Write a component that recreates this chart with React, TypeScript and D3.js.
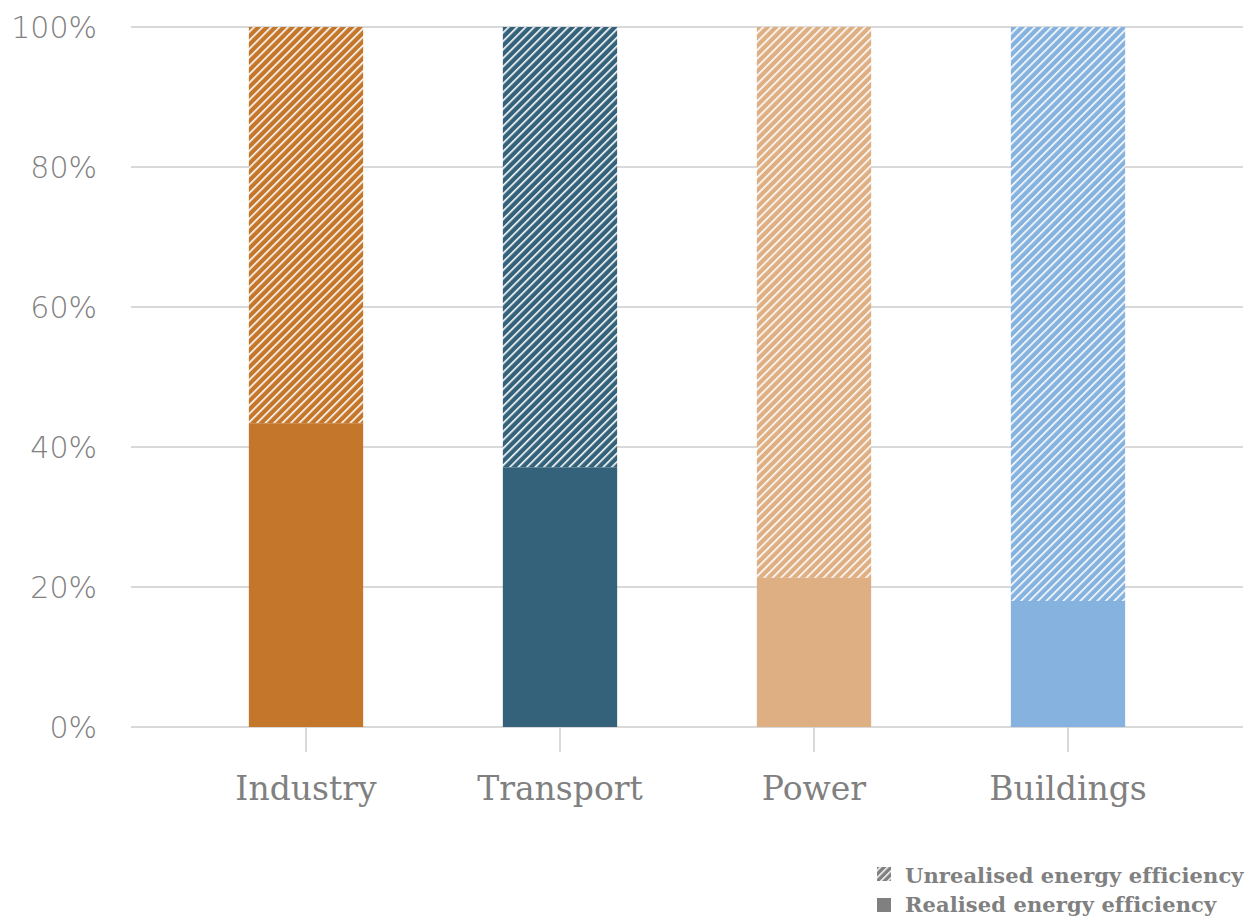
import React from "react";
import * as d3 from "d3";

const categories = ["Industry", "Transport", "Power", "Buildings"];
const realised = [43.4, 37.1, 21.3, 18.0];
const unrealised = [56.6, 62.9, 78.7, 82.0];
const colors = ["#C4762B", "#34627A", "#DFAF84", "#85B2DE"];
const yTicks = [0, 20, 40, 60, 80, 100];
const legendLabels = ["Unrealised energy efficiency", "Realised energy efficiency"];

const W = 1257;
const H = 917;

export default function App() {
  const x = d3.scaleBand<string>().domain(categories).range([179, 1195]).paddingInner(0.55).paddingOuter(0.275);
  const y = d3.scaleLinear().domain([0, 100]).range([727, 27]);
  const grey = "#808080";
  return (
    <svg width={W} height={H} style={{ position: "absolute", left: 0, top: 0 }}>
      <defs>
        {colors.map((c, i) => (
          <pattern key={i} id={`hatch${i}`} patternUnits="userSpaceOnUse" width={6} height={6} patternTransform="rotate(45)">
            <rect width={6} height={6} fill={c} />
            <rect x={0} y={0} width={1.6} height={6} fill="#fff" />
          </pattern>
        ))}
        <pattern id="hatchLegend" patternUnits="userSpaceOnUse" width={5} height={5} patternTransform="rotate(45)">
          <rect width={5} height={5} fill={grey} />
          <rect x={0} y={0} width={1.5} height={5} fill="#fff" />
        </pattern>
      </defs>
      {yTicks.map((t) => (
        <g key={t}>
          <line x1={131} x2={1243} y1={y(t)} y2={y(t)} stroke="#cccccc" strokeWidth={1.5} />
          <text x={97} y={y(t)} dy="0.36em" textAnchor="end" fill={grey} fontFamily="'DejaVu Sans', sans-serif" fontSize={30} fontWeight={300}>
            {t}%
          </text>
        </g>
      ))}
      {categories.map((c, i) => {
        const bx = x(c)!;
        const bw = x.bandwidth();
        const cx = bx + bw / 2;
        return (
          <g key={c}>
            <rect x={bx} width={bw} y={y(realised[i] + unrealised[i])} height={y(realised[i]) - y(realised[i] + unrealised[i])} fill={`url(#hatch${i})`} />
            <rect x={bx} width={bw} y={y(realised[i])} height={y(0) - y(realised[i])} fill={colors[i]} />
            <line x1={cx} x2={cx} y1={727} y2={752} stroke="#cccccc" strokeWidth={1.5} />
            <text x={cx} y={800} textAnchor="middle" fill={grey} fontFamily="'DejaVu Serif', serif" fontSize={33}>
              {c}
            </text>
          </g>
        );
      })}
      <g>
        <rect x={877} y={867} width={14} height={14} fill="url(#hatchLegend)" />
        <text x={905} y={883} fill={grey} fontFamily="'DejaVu Serif', serif" fontWeight="bold" fontSize={21} letterSpacing={0.1}>
          {legendLabels[0]}
        </text>
        <rect x={877} y={898} width={14} height={14} fill={grey} />
        <text x={905} y={912} fill={grey} fontFamily="'DejaVu Serif', serif" fontWeight="bold" fontSize={21} letterSpacing={0.1}>
          {legendLabels[1]}
        </text>
      </g>
    </svg>
  );
}
